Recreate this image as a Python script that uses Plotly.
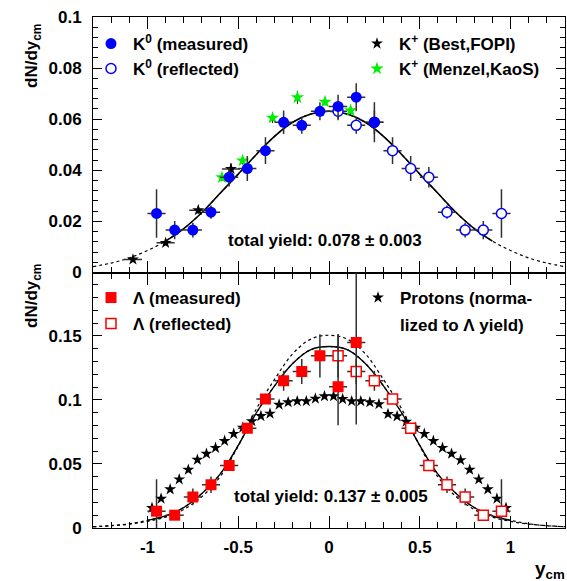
import plotly.graph_objects as go

# ---------------- data ----------------
# upper panel: K0 rapidity distribution
k0_meas_x = [-0.95, -0.85, -0.75, -0.65, -0.55, -0.45, -0.35, -0.25, -0.15, -0.05, 0.05, 0.15, 0.25]
k0_meas_y = [0.0231, 0.0166, 0.0166, 0.0236, 0.0373, 0.0407, 0.0477, 0.0588, 0.0576, 0.0631, 0.0650, 0.0686, 0.0588]
k0_meas_err = [0.0095, 0.0036, 0.0029, 0.0026, 0.0036, 0.0049, 0.0052, 0.0046, 0.0033, 0.0035, 0.0046, 0.0055, 0.0078]

k0_refl_x = [0.05, 0.15, 0.25, 0.35, 0.45, 0.55, 0.65, 0.75, 0.85, 0.95]
k0_refl_y = [0.0631, 0.0576, 0.0588, 0.0477, 0.0407, 0.0373, 0.0236, 0.0166, 0.0166, 0.0231]
k0_refl_err = [0.0035, 0.0033, 0.0046, 0.0052, 0.0049, 0.0040, 0.0026, 0.0029, 0.0036, 0.0095]

bin_halfwidth = 0.05

kp_fopi_x = [-1.08, -0.90, -0.72, -0.54]
kp_fopi_y = [0.0051, 0.0116, 0.0244, 0.0405]
kp_fopi_err = [0.0008, 0.0010, 0.0015, 0.0023]

kp_kaos_x = [-0.59, -0.476, -0.311, -0.174, -0.022, 0.119]
kp_kaos_y = [0.0372, 0.0438, 0.0605, 0.0685, 0.0668, 0.0634]
kp_kaos_err = [0.0015, 0.0015, 0.0020, 0.0026, 0.0015, 0.0015]

# lower panel: Lambda rapidity distribution
lam_meas_x = [-0.95, -0.85, -0.75, -0.65, -0.55, -0.45, -0.35, -0.25, -0.15, -0.05, 0.05, 0.15]
lam_meas_y = [0.0131, 0.0100, 0.0243, 0.0338, 0.0488, 0.0779, 0.1007, 0.1149, 0.1222, 0.1344, 0.1103, 0.1448]
lam_meas_err_plus = [0.025, 0.003, 0.0065, 0.0065, 0.003, 0.003, 0.0039, 0.0078, 0.0097, 0.0169, 0.041, 0.064]
lam_meas_err_minus = [0.025, 0.003, 0.0065, 0.0065, 0.003, 0.003, 0.0039, 0.0078, 0.0097, 0.0169, 0.030, 0.064]

lam_refl_x = [0.05, 0.15, 0.25, 0.35, 0.45, 0.55, 0.65, 0.75, 0.85, 0.95]
lam_refl_y = [0.1344, 0.1222, 0.1149, 0.1007, 0.0779, 0.0488, 0.0338, 0.0243, 0.0100, 0.0131]
lam_refl_err = [0.0169, 0.0097, 0.0078, 0.0039, 0.003, 0.003, 0.0065, 0.0065, 0.003, 0.025]

prot_x = [-0.975, -0.925, -0.875, -0.825, -0.775, -0.725, -0.675, -0.625, -0.575, -0.525,
          -0.475, -0.425, -0.375, -0.325, -0.275, -0.225, -0.175, -0.125, -0.075, -0.025,
          0.025, 0.075, 0.125, 0.175, 0.225, 0.275, 0.325, 0.375, 0.425, 0.475,
          0.525, 0.575, 0.625, 0.675, 0.725, 0.775, 0.825, 0.875, 0.925, 0.975]
prot_y = [0.0157, 0.0229, 0.0302, 0.0380, 0.0455, 0.0533, 0.0580, 0.0626, 0.0680, 0.0735,
          0.0784, 0.0834, 0.0874, 0.0893, 0.0963, 0.0982, 0.0990, 0.0990, 0.1010, 0.1029,
          0.1029, 0.1007, 0.0990, 0.0990, 0.0982, 0.0967, 0.0890, 0.0872, 0.0830, 0.0783,
          0.0735, 0.0680, 0.0626, 0.0580, 0.0530, 0.0455, 0.0380, 0.0302, 0.0229, 0.0157]

# fit curves
fit_x = [-1.3, -1.2, -1.1, -1.0, -0.9, -0.8, -0.7, -0.6, -0.5, -0.4, -0.3, -0.2, -0.1, 0.0,
         0.1, 0.2, 0.3, 0.4, 0.5, 0.6, 0.7, 0.8, 0.9, 1.0, 1.1, 1.2, 1.3]
k0_fit_y = [0.0023, 0.0037, 0.0057, 0.0086, 0.0123, 0.0172, 0.0235, 0.0310, 0.0385, 0.0462, 0.0533, 0.0588, 0.0620, 0.0631,
            0.0620, 0.0588, 0.0533, 0.0462, 0.0385, 0.0310, 0.0235, 0.0172, 0.0123, 0.0086, 0.0057, 0.0037, 0.0023]
lam_fit_y = [0.0010, 0.0018, 0.0033, 0.0060, 0.0094, 0.0160, 0.0270, 0.0420, 0.0645, 0.0900, 0.1110, 0.1285, 0.1393, 0.1417,
             0.1393, 0.1285, 0.1110, 0.0900, 0.0645, 0.0420, 0.0270, 0.0160, 0.0094, 0.0060, 0.0033, 0.0018, 0.0010]
lam_fit2_y = [0.0010, 0.0018, 0.0030, 0.0052, 0.0085, 0.0145, 0.0245, 0.0400, 0.0640, 0.0930, 0.1160, 0.1360, 0.1475, 0.1505,
              0.1475, 0.1360, 0.1160, 0.0930, 0.0640, 0.0400, 0.0245, 0.0145, 0.0085, 0.0052, 0.0030, 0.0018, 0.0010]
k0_fit_range = 0.9
lam_fit_range = 1.0

x_tickvals = [-1, -0.5, 0, 0.5, 1]
x_ticktext = ["-1", "-0.5", "0", "0.5", "1"]
y2_tickvals = [0, 0.05, 0.1, 0.15]

# ---------------- styles ----------------
FONT = "Liberation Sans, Arial, Helvetica, sans-serif"
BLUE = "#0000ff"
RED = "#ff0000"
GREEN = "#00ee00"
EBAR = "#303030"


def ey(arr, arrm=None):
    d = dict(type="data", array=arr, color=EBAR, thickness=1.5, width=0, visible=True)
    if arrm is not None:
        d["symmetric"] = False
        d["arrayminus"] = arrm
    return d


def ex(n):
    return dict(type="data", array=[bin_halfwidth] * n, color=EBAR, thickness=1.5, width=0, visible=True)


def subset(xs, ys, lim):
    pts = [(a, b) for a, b in zip(xs, ys) if abs(a) <= lim + 1e-9]
    return [p[0] for p in pts], [p[1] for p in pts]


fig = go.Figure()

# ---- upper panel curves ----
fig.add_trace(go.Scatter(x=fit_x, y=k0_fit_y, mode="lines", line=dict(color="black", width=1.2, dash="3px,3px", shape="spline"),
                         showlegend=False, xaxis="x", yaxis="y", hoverinfo="skip"))
sx, sy = subset(fit_x, k0_fit_y, k0_fit_range)
fig.add_trace(go.Scatter(x=sx, y=sy, mode="lines", line=dict(color="black", width=1.6, shape="spline"),
                         showlegend=False, xaxis="x", yaxis="y", hoverinfo="skip"))

# ---- lower panel curves ----
fig.add_trace(go.Scatter(x=fit_x, y=lam_fit2_y, mode="lines", line=dict(color="black", width=1.2, dash="3px,3px", shape="spline"),
                         showlegend=False, xaxis="x2", yaxis="y2", hoverinfo="skip"))
fig.add_trace(go.Scatter(x=fit_x, y=lam_fit_y, mode="lines", line=dict(color="black", width=1.2, dash="3px,3px", shape="spline"),
                         showlegend=False, xaxis="x2", yaxis="y2", hoverinfo="skip"))
sx, sy = subset(fit_x, lam_fit_y, lam_fit_range)
fig.add_trace(go.Scatter(x=sx, y=sy, mode="lines", line=dict(color="black", width=1.3, shape="spline"),
                         showlegend=False, xaxis="x2", yaxis="y2", hoverinfo="skip"))

# ---- upper panel data ----
fig.add_trace(go.Scatter(x=kp_fopi_x, y=kp_fopi_y, mode="markers", name="K<sup>+</sup> (Best,FOPI)",
                         marker=dict(symbol="star", size=9, color="black"),
                         error_y=ey(kp_fopi_err), error_x=ex(len(kp_fopi_x)),
                         xaxis="x", yaxis="y", legend="legend3"))
fig.add_trace(go.Scatter(x=kp_kaos_x, y=kp_kaos_y, mode="markers", name="K<sup>+</sup> (Menzel,KaoS)",
                         marker=dict(symbol="star", size=10, color=GREEN),
                         error_y=dict(type="data", array=kp_kaos_err, color="#202020", thickness=1, width=0),
                         xaxis="x", yaxis="y", legend="legend4"))
fig.add_trace(go.Scatter(x=k0_refl_x, y=k0_refl_y, mode="markers", name="K<sup>0</sup> (reflected)",
                         marker=dict(symbol="circle", size=10, color="white", line=dict(color=BLUE, width=1.5)),
                         error_y=ey(k0_refl_err), error_x=ex(len(k0_refl_x)),
                         xaxis="x", yaxis="y", legend="legend2"))
fig.add_trace(go.Scatter(x=k0_meas_x, y=k0_meas_y, mode="markers", name="K<sup>0</sup> (measured)",
                         marker=dict(symbol="circle", size=11, color=BLUE, line=dict(width=0)),
                         error_y=ey(k0_meas_err), error_x=ex(len(k0_meas_x)),
                         xaxis="x", yaxis="y", legend="legend"))

# ---- lower panel data ----
fig.add_trace(go.Scatter(x=prot_x, y=prot_y, mode="markers", name="Protons (norma-",
                         marker=dict(symbol="star", size=9, color="black"),
                         xaxis="x2", yaxis="y2", legend="legend7"))
fig.add_trace(go.Scatter(x=lam_refl_x, y=lam_refl_y, mode="markers", name="Λ (reflected)",
                         marker=dict(symbol="square", size=10, color="white", line=dict(color=RED, width=1.5)),
                         error_y=ey(lam_refl_err), error_x=ex(len(lam_refl_x)),
                         xaxis="x2", yaxis="y2", legend="legend6"))
fig.add_trace(go.Scatter(x=lam_meas_x, y=lam_meas_y, mode="markers", name="Λ (measured)",
                         marker=dict(symbol="square", size=11, color=RED, line=dict(width=0)),
                         error_y=ey(lam_meas_err_plus, lam_meas_err_minus), error_x=ex(len(lam_meas_x)),
                         xaxis="x2", yaxis="y2", legend="legend5"))

# ---------------- layout ----------------
tickfont = dict(family=FONT, size=17, color="black", weight="bold")

common_x = dict(range=[-1.3, 1.3], showgrid=False, zeroline=False, showline=True, linecolor="black", linewidth=1,
                mirror="ticks", ticks="inside", ticklen=12, tickwidth=1, tickcolor="black",
                tickvals=x_tickvals, ticktext=x_ticktext, tickfont=tickfont,
                minor=dict(ticks="inside", ticklen=6, tickwidth=1, tickcolor="black", dtick=0.1, tick0=0, showgrid=False))
common_y = dict(showgrid=False, zeroline=False, showline=True, linecolor="black", linewidth=1,
                mirror="ticks", ticks="inside", ticklen=9, tickwidth=1, tickcolor="black", tickfont=tickfont,
                ticklabelstandoff=7)

legfont = dict(family=FONT, size=17, color="black", weight="bold")


def leg(xp, yp):
    return dict(x=xp, y=yp, xref="paper", yref="paper", xanchor="left", yanchor="middle",
                bgcolor="rgba(0,0,0,0)", borderwidth=0, font=legfont, itemwidth=34, itemclick=False)


# plot area pixel mapping helpers for legend placement
L, R, T, B = 93, 2, 17, 53
W, H = 567, 581
PW, PH = W - L - R, H - T - B


def px_x(p):
    return (p - L) / PW


def px_y(p):
    return (H - B - p) / PH


fig.update_layout(
    width=W, height=H, autosize=False,
    margin=dict(l=L, r=R, t=T, b=B, pad=0),
    paper_bgcolor="white", plot_bgcolor="white",
    font=dict(family=FONT, size=17, color="black"),
    xaxis=dict(common_x, domain=[0, 1], anchor="y", showticklabels=False, matches="x2"),
    xaxis2=dict(common_x, domain=[0, 1], anchor="y2", showticklabels=True, ticklabelstandoff=4),
    yaxis=dict(common_y, domain=[0.5, 1], anchor="x", range=[0, 0.1], dtick=0.02, tick0=0,
               minor=dict(ticks="inside", ticklen=5, tickwidth=1, tickcolor="black", dtick=0.004, tick0=0, showgrid=False)),
    yaxis2=dict(common_y, domain=[0, 0.5], anchor="x2", range=[0, 0.1995], tickvals=y2_tickvals,
                minor=dict(ticks="inside", ticklen=5, tickwidth=1, tickcolor="black", dtick=0.01, tick0=0, showgrid=False)),
    legend=leg(px_x(89), px_y(44)),
    legend2=leg(px_x(89), px_y(69)),
    legend3=leg(px_x(355), px_y(44)),
    legend4=leg(px_x(355), px_y(69)),
    legend5=leg(px_x(89), px_y(298)),
    legend6=leg(px_x(89), px_y(324)),
    legend7=leg(px_x(356), px_y(298)),
    showlegend=True,
)

ann_font = dict(family=FONT, size=17, color="black", weight="bold")
fig.add_annotation(text="total yield: 0.078 ± 0.003", x=-0.02, y=0.0125, xref="x", yref="y",
                   showarrow=False, font=ann_font)
fig.add_annotation(text="total yield: 0.137 ± 0.005", x=0.01, y=0.0245, xref="x2", yref="y2",
                   showarrow=False, font=ann_font)
fig.add_annotation(text="lized to Λ yield)", x=px_x(398), y=px_y(325), xref="paper", yref="paper",
                   xanchor="left", yanchor="middle", showarrow=False, font=ann_font)
fig.add_annotation(text="dN/dy<sub>cm</sub>", x=px_x(33), y=px_y(56), xref="paper", yref="paper",
                   xanchor="center", yanchor="middle", textangle=-90, showarrow=False, font=ann_font)
fig.add_annotation(text="dN/dy<sub>cm</sub>", x=px_x(33), y=px_y(296), xref="paper", yref="paper",
                   xanchor="center", yanchor="middle", textangle=-90, showarrow=False, font=ann_font)
fig.add_annotation(text="y<sub>cm</sub>", x=px_x(567), y=px_y(570), xref="paper", yref="paper",
                   xanchor="right", yanchor="middle", showarrow=False, font=dict(ann_font, size=19))

fig.write_html("out.html")
